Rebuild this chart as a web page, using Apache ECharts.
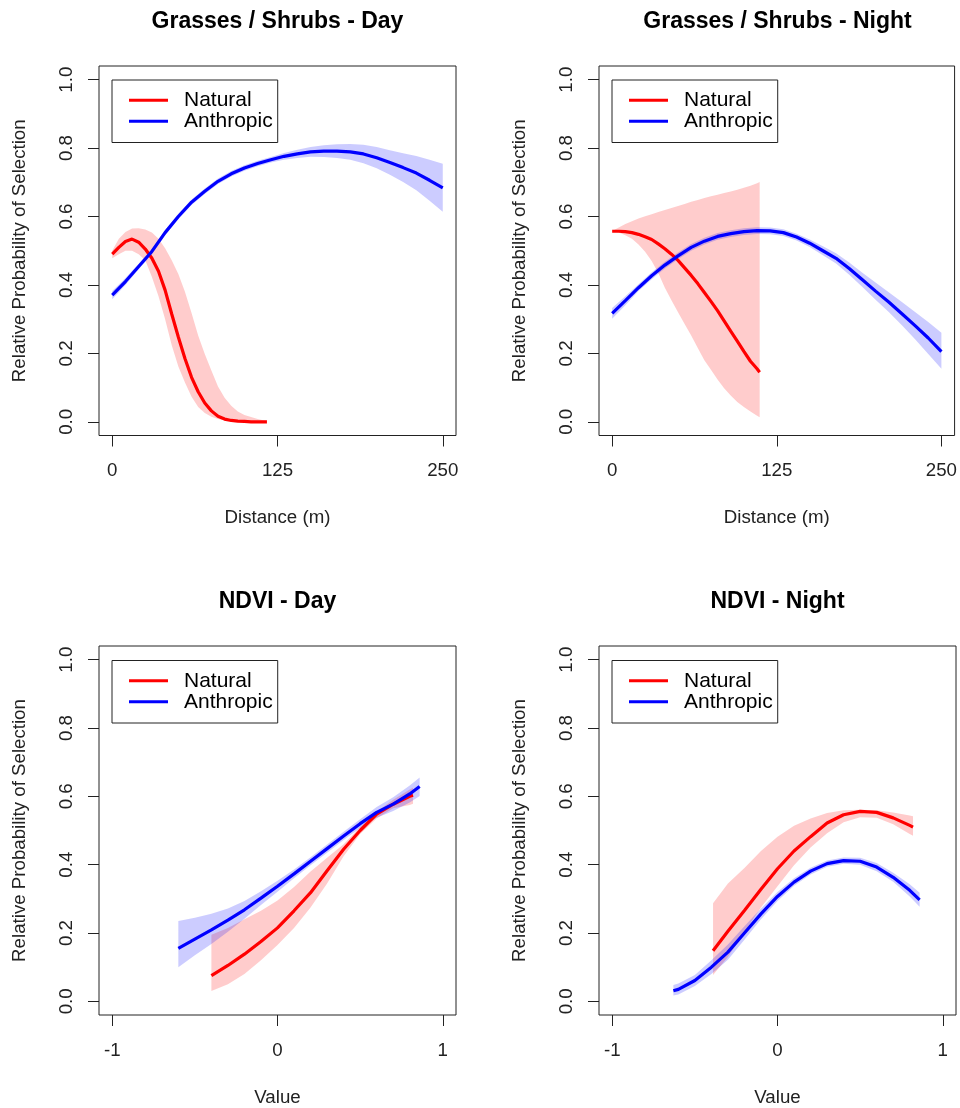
<!DOCTYPE html>
<html>
<head>
<meta charset="utf-8">
<script src="https://cdn.jsdelivr.net/npm/echarts@6/dist/echarts.min.js"></script>
<style>
  html, body { margin: 0; padding: 0; background: #fff; }
  #chart { width: 960px; height: 1108px; }
</style>
</head>
<body>
<div id="chart"></div>
<script>
// Grasses / Shrubs - Day
var gsDayNatX = [0, 5, 10, 15, 20, 25, 30, 35, 40, 45, 50, 55, 60, 65, 70, 75, 80, 85, 90, 95, 100, 105, 110, 115, 117];
var gsDayNat = [0.49, 0.51, 0.527, 0.534, 0.525, 0.505, 0.478, 0.44, 0.385, 0.315, 0.248, 0.185, 0.13, 0.088, 0.055, 0.032, 0.016, 0.008, 0.004, 0.002, 0.001, 0, 0, 0, 0];
var gsDayNatHi = [0.5, 0.535, 0.555, 0.565, 0.566, 0.562, 0.553, 0.535, 0.507, 0.472, 0.432, 0.38, 0.318, 0.252, 0.198, 0.15, 0.103, 0.07, 0.047, 0.03, 0.02, 0.014, 0.008, 0.004, 0.003];
var gsDayNatLo = [0.478, 0.49, 0.5, 0.5, 0.49, 0.472, 0.423, 0.367, 0.3, 0.224, 0.162, 0.115, 0.073, 0.043, 0.026, 0.015, 0.008, 0.004, 0.002, 0, 0, 0, 0, 0, 0];
var gsDayAntX = [0, 10, 20, 30, 40, 50, 60, 70, 80, 90, 100, 110, 120, 130, 140, 150, 160, 170, 180, 190, 200, 210, 220, 230, 240, 250];
var gsDayAnt = [0.37, 0.41, 0.454, 0.498, 0.553, 0.6, 0.642, 0.674, 0.703, 0.725, 0.742, 0.755, 0.766, 0.776, 0.783, 0.789, 0.791, 0.791, 0.789, 0.783, 0.772, 0.758, 0.743, 0.727, 0.706, 0.684];
var gsDayAntLo = [0.358, 0.4, 0.446, 0.49, 0.545, 0.592, 0.634, 0.666, 0.695, 0.717, 0.734, 0.747, 0.758, 0.766, 0.771, 0.775, 0.774, 0.771, 0.766, 0.756, 0.741, 0.722, 0.701, 0.677, 0.646, 0.614];
var gsDayAntHi = [0.382, 0.42, 0.462, 0.506, 0.561, 0.608, 0.65, 0.682, 0.711, 0.733, 0.75, 0.763, 0.774, 0.786, 0.795, 0.803, 0.808, 0.811, 0.812, 0.81, 0.803, 0.794, 0.785, 0.777, 0.766, 0.754];

// Grasses / Shrubs - Night
var gsNightNatX = [0, 5, 10, 15, 20, 25, 30, 35, 40, 45, 50, 55, 60, 65, 70, 75, 80, 85, 90, 95, 100, 105, 110, 112];
var gsNightNat = [0.557, 0.557, 0.556, 0.553, 0.548, 0.541, 0.533, 0.52, 0.506, 0.49, 0.472, 0.45, 0.428, 0.404, 0.378, 0.352, 0.325, 0.295, 0.265, 0.236, 0.206, 0.177, 0.155, 0.145];
var gsNightNatHi = [0.558, 0.568, 0.578, 0.586, 0.594, 0.601, 0.607, 0.613, 0.619, 0.625, 0.631, 0.637, 0.643, 0.648, 0.654, 0.659, 0.664, 0.669, 0.673, 0.678, 0.684, 0.69, 0.697, 0.701];
var gsNightNatLo = [0.557, 0.553, 0.545, 0.535, 0.518, 0.497, 0.47, 0.435, 0.392, 0.355, 0.32, 0.286, 0.252, 0.216, 0.18, 0.152, 0.124, 0.098, 0.077, 0.058, 0.043, 0.03, 0.018, 0.013];
var gsNightAntX = [0, 10, 20, 30, 40, 50, 60, 70, 80, 90, 100, 110, 120, 130, 140, 150, 160, 170, 180, 190, 200, 210, 220, 230, 240, 250];
var gsNightAnt = [0.317, 0.354, 0.392, 0.427, 0.458, 0.485, 0.51, 0.528, 0.542, 0.55, 0.556, 0.559, 0.558, 0.553, 0.54, 0.522, 0.5, 0.478, 0.448, 0.415, 0.382, 0.35, 0.316, 0.281, 0.245, 0.205];
var gsNightAntLo = [0.301, 0.341, 0.382, 0.417, 0.448, 0.475, 0.5, 0.518, 0.532, 0.54, 0.546, 0.549, 0.548, 0.543, 0.53, 0.511, 0.487, 0.463, 0.43, 0.394, 0.357, 0.321, 0.282, 0.241, 0.198, 0.155];
var gsNightAntHi = [0.333, 0.367, 0.402, 0.437, 0.468, 0.495, 0.52, 0.538, 0.552, 0.56, 0.566, 0.569, 0.568, 0.563, 0.55, 0.533, 0.513, 0.493, 0.466, 0.436, 0.407, 0.379, 0.35, 0.321, 0.292, 0.26];

// NDVI - Day
var ndDayNatX = [-0.4, -0.3, -0.2, -0.1, 0, 0.1, 0.2, 0.3, 0.4, 0.5, 0.6, 0.7, 0.8, 0.82];
var ndDayNat = [0.075, 0.105, 0.138, 0.175, 0.215, 0.265, 0.318, 0.382, 0.445, 0.5, 0.548, 0.577, 0.6, 0.603];
var ndDayNatHi = [0.195, 0.215, 0.24, 0.265, 0.295, 0.335, 0.38, 0.42, 0.46, 0.51, 0.555, 0.59, 0.62, 0.625];
var ndDayNatLo = [0.03, 0.05, 0.08, 0.12, 0.165, 0.215, 0.275, 0.345, 0.425, 0.49, 0.535, 0.565, 0.575, 0.578];
var ndDayAntX = [-0.6, -0.5, -0.4, -0.3, -0.2, -0.1, 0, 0.1, 0.2, 0.3, 0.4, 0.5, 0.6, 0.7, 0.8, 0.86];
var ndDayAnt = [0.155, 0.182, 0.209, 0.238, 0.268, 0.302, 0.337, 0.373, 0.41, 0.447, 0.484, 0.52, 0.553, 0.577, 0.607, 0.629];
var ndDayAntLo = [0.1, 0.135, 0.168, 0.204, 0.242, 0.282, 0.321, 0.36, 0.398, 0.435, 0.472, 0.507, 0.537, 0.557, 0.582, 0.601];
var ndDayAntHi = [0.235, 0.245, 0.256, 0.272, 0.294, 0.322, 0.353, 0.386, 0.422, 0.459, 0.496, 0.533, 0.569, 0.597, 0.632, 0.655];

// NDVI - Night
var ndNightNatX = [-0.39, -0.3, -0.2, -0.1, 0, 0.1, 0.2, 0.3, 0.4, 0.5, 0.6, 0.7, 0.8, 0.82];
var ndNightNat = [0.148, 0.205, 0.266, 0.328, 0.388, 0.44, 0.482, 0.522, 0.546, 0.556, 0.553, 0.537, 0.515, 0.51];
var ndNightNatHi = [0.287, 0.345, 0.39, 0.44, 0.482, 0.514, 0.535, 0.551, 0.559, 0.561, 0.559, 0.553, 0.544, 0.542];
var ndNightNatLo = [0.077, 0.13, 0.203, 0.275, 0.337, 0.398, 0.45, 0.492, 0.524, 0.539, 0.537, 0.518, 0.49, 0.485];
var ndNightAntX = [-0.63, -0.6, -0.5, -0.4, -0.3, -0.2, -0.1, 0, 0.1, 0.2, 0.3, 0.4, 0.5, 0.6, 0.7, 0.8, 0.86];
var ndNightAnt = [0.031, 0.035, 0.061, 0.1, 0.144, 0.2, 0.256, 0.307, 0.349, 0.381, 0.403, 0.412, 0.41, 0.393, 0.363, 0.325, 0.297];
var ndNightAntLo = [0.017, 0.02, 0.045, 0.08, 0.122, 0.18, 0.24, 0.294, 0.338, 0.371, 0.394, 0.403, 0.4, 0.381, 0.35, 0.307, 0.277];
var ndNightAntHi = [0.048, 0.052, 0.077, 0.12, 0.166, 0.22, 0.272, 0.32, 0.36, 0.391, 0.412, 0.421, 0.42, 0.405, 0.376, 0.343, 0.318];

var titles = ["Grasses / Shrubs - Day", "Grasses / Shrubs - Night", "NDVI - Day", "NDVI - Night"];
var xNames = ["Distance (m)", "Distance (m)", "Value", "Value"];
var yName = "Relative Probability of Selection";
var distTicks = [0, 125, 250];
var ndviTicks = [-1, 0, 1];
var probTicks = [0, 0.2, 0.4, 0.6, 0.8, 1.0];

var FONT = "'Liberation Sans', Arial, sans-serif";
var RED = "#ff0000";
var BLUE = "#0000ff";
var INK = "#222";

var chart = echarts.init(document.getElementById("chart"));

var grids = [
  { left: 99, top: 66, width: 357, height: 369.5 },
  { left: 599, top: 66, width: 357, height: 369.5 },
  { left: 99, top: 646, width: 357, height: 370 },
  { left: 599, top: 646, width: 357, height: 370 },
];

function zip(xs, ys) {
  return xs.map(function (x, i) { return [x, ys[i]]; });
}

function lineSeries(name, idx, xs, ys, color) {
  return {
    name: name,
    type: "line",
    xAxisIndex: idx,
    yAxisIndex: idx,
    data: zip(xs, ys),
    symbol: "none",
    lineStyle: { color: color, width: 3.2 },
    itemStyle: { color: color },
    z: 3,
    silent: true,
    animation: false,
  };
}

// confidence band drawn as one polygon through the axis scales
function bandSeries(idx, xs, lo, hi, fill) {
  var data = xs.map(function (x, i) { return [x, lo[i], hi[i]]; });
  return {
    type: "custom",
    xAxisIndex: idx,
    yAxisIndex: idx,
    data: data,
    encode: { x: 0, y: [1, 2] },
    silent: true,
    z: 1,
    clip: true,
    animation: false,
    renderItem: function (params, api) {
      if (params.dataIndex !== 0) return;
      var pts = [];
      for (var i = 0; i < data.length; i++) pts.push(api.coord([data[i][0], data[i][2]]));
      for (var j = data.length - 1; j >= 0; j--) pts.push(api.coord([data[j][0], data[j][1]]));
      return { type: "polygon", shape: { points: pts }, style: { fill: fill } };
    },
  };
}

var xAxes = [];
var yAxes = [];
var titleList = [];
var legends = [];

grids.forEach(function (g, i) {
  var isDist = i < 2;
  var ticks = isDist ? distTicks : ndviTicks;
  xAxes.push({
    type: "value",
    gridIndex: i,
    min: isDist ? -10 : -1.08,
    max: isDist ? 260 : 1.08,
    name: xNames[i],
    nameLocation: "middle",
    nameGap: 73,
    nameTextStyle: { fontFamily: FONT, fontSize: 18.7, color: INK },
    axisLine: { show: false, onZero: false },
    splitLine: { show: false },
    axisTick: { show: true, length: 11, customValues: ticks, lineStyle: { color: INK, width: 1 } },
    axisLabel: {
      customValues: ticks,
      margin: 26,
      fontFamily: FONT,
      fontSize: 18.7,
      color: INK,
      formatter: function (v) { return String(v); },
    },
  });
  yAxes.push({
    type: "value",
    gridIndex: i,
    min: -0.04,
    max: 1.04,
    name: yName,
    nameLocation: "middle",
    nameGap: 70,
    nameTextStyle: { fontFamily: FONT, fontSize: 18.7, color: INK },
    axisLine: { show: false, onZero: false },
    splitLine: { show: false },
    axisTick: { show: true, length: 11, customValues: probTicks, lineStyle: { color: INK, width: 1 } },
    axisLabel: {
      customValues: probTicks,
      rotate: 90,
      margin: 23,
      fontFamily: FONT,
      fontSize: 18.7,
      color: INK,
      formatter: function (v) { return v.toFixed(1); },
    },
  });
  titleList.push({
    text: titles[i],
    left: g.left + g.width / 2,
    top: i < 2 ? 10.5 : 590,
    textAlign: "center",
    padding: 0,
    textStyle: { fontFamily: FONT, fontSize: 23, fontWeight: "bold", color: "#000" },
  });
  legends.push({
    data: ["Natural", "Anthropic"],
    orient: "vertical",
    left: g.left + 13,
    top: i < 2 ? 80 : 660.5,
    padding: [9.75, 5, 10.75, 17],
    itemGap: 0,
    itemWidth: 39,
    itemHeight: 3,
    icon: "rect",
    selectedMode: false,
    borderColor: INK,
    borderWidth: 1,
    backgroundColor: "#fff",
    textStyle: {
      fontFamily: FONT,
      fontSize: 21,
      color: "#000",
      lineHeight: 19.9,
      padding: [0, 0, 0, 11],
    },
  });
});

var series = [
  bandSeries(0, gsDayNatX, gsDayNatLo, gsDayNatHi, "rgba(255,0,0,0.2)"),
  bandSeries(0, gsDayAntX, gsDayAntLo, gsDayAntHi, "rgba(0,0,255,0.2)"),
  lineSeries("Natural", 0, gsDayNatX, gsDayNat, RED),
  lineSeries("Anthropic", 0, gsDayAntX, gsDayAnt, BLUE),

  bandSeries(1, gsNightNatX, gsNightNatLo, gsNightNatHi, "rgba(255,0,0,0.2)"),
  bandSeries(1, gsNightAntX, gsNightAntLo, gsNightAntHi, "rgba(0,0,255,0.2)"),
  lineSeries("Natural", 1, gsNightNatX, gsNightNat, RED),
  lineSeries("Anthropic", 1, gsNightAntX, gsNightAnt, BLUE),

  bandSeries(2, ndDayNatX, ndDayNatLo, ndDayNatHi, "rgba(255,0,0,0.2)"),
  bandSeries(2, ndDayAntX, ndDayAntLo, ndDayAntHi, "rgba(0,0,255,0.2)"),
  lineSeries("Natural", 2, ndDayNatX, ndDayNat, RED),
  lineSeries("Anthropic", 2, ndDayAntX, ndDayAnt, BLUE),

  bandSeries(3, ndNightNatX, ndNightNatLo, ndNightNatHi, "rgba(255,0,0,0.2)"),
  bandSeries(3, ndNightAntX, ndNightAntLo, ndNightAntHi, "rgba(0,0,255,0.2)"),
  lineSeries("Natural", 3, ndNightNatX, ndNightNat, RED),
  lineSeries("Anthropic", 3, ndNightAntX, ndNightAnt, BLUE),
];

var option = {
  backgroundColor: "#fff",
  animation: false,
  title: titleList,
  legend: legends,
  grid: grids.map(function (g) {
    return {
      left: g.left,
      top: g.top,
      width: g.width,
      height: g.height,
      show: true,
      borderColor: INK,
      borderWidth: 1,
      backgroundColor: "transparent",
      containLabel: false,
    };
  }),
  xAxis: xAxes,
  yAxis: yAxes,
  series: series,
};

chart.setOption(option);
</script>
</body>
</html>
